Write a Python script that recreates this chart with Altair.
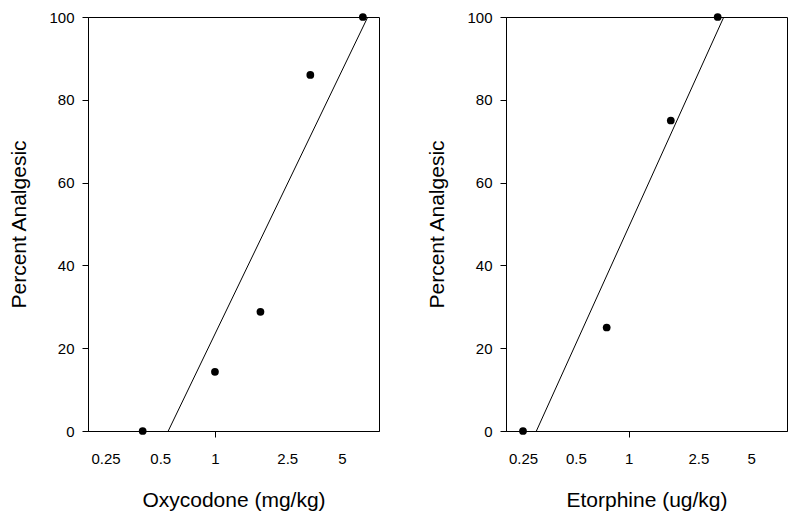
import altair as alt
import pandas as pd

# Oxycodone panel
oxy_dose = [0.40, 1.0, 1.78, 3.35, 6.52]
oxy_pct = [0, 14.3, 28.8, 86, 100]
oxy_fit_dose = [0.553, 6.94]
oxy_fit_pct = [0, 100]

# Etorphine panel
eto_dose = [0.25, 0.75, 1.74, 3.22]
eto_pct = [0, 25, 75, 100]
eto_fit_dose = [0.298, 3.49]
eto_fit_pct = [0, 100]

x_ticks = [0.25, 0.5, 1, 2.5, 5]
y_ticks = [0, 20, 40, 60, 80, 100]

FONT = "Liberation Sans"


def panel(dose, pct, fit_dose, fit_pct, xtitle, width):
    pts = pd.DataFrame({"dose": dose, "pct": pct})
    fit = pd.DataFrame({"dose": fit_dose, "pct": fit_pct})
    xs = alt.Scale(type="log", domain=[0.2, 8], nice=False)
    ys = alt.Scale(domain=[0, 100], nice=False)
    xax = alt.Axis(
        values=x_ticks,
        labelExpr="datum.value",
        title=xtitle,
        grid=False,
        tickSize=6,
        tickOpacity={"condition": {"test": "datum.value === 1", "value": 1}, "value": 0},
        labelPadding=14,
        titlePadding=23,
        labelFlush=False,
        labelOverlap=False,
    )
    yax = alt.Axis(
        values=y_ticks,
        title="Percent Analgesic",
        grid=False,
        tickSize=6,
        labelPadding=8,
        titlePadding=19,
    )
    line = alt.Chart(fit).mark_line(color="black", strokeWidth=1, clip=True).encode(
        x=alt.X("dose:Q", scale=xs, axis=xax),
        y=alt.Y("pct:Q", scale=ys, axis=yax),
    )
    dots = alt.Chart(pts).mark_circle(color="black", opacity=1, size=60).encode(
        x=alt.X("dose:Q", scale=xs),
        y=alt.Y("pct:Q", scale=ys),
    )
    return alt.layer(line, dots).properties(width=width, height=414)


left = panel(oxy_dose, oxy_pct, oxy_fit_dose, oxy_fit_pct, "Oxycodone (mg/kg)", 291)
right = panel(eto_dose, eto_pct, eto_fit_dose, eto_fit_pct, "Etorphine (ug/kg)", 281)

chart = (
    alt.hconcat(left, right, spacing=46)
    .properties(padding={"left": 0, "top": 1, "right": 0, "bottom": 0}, background="white")
    .configure_view(stroke="black", strokeWidth=1)
    .configure_axis(
        domainColor="black",
        tickColor="black",
        labelColor="black",
        titleColor="black",
        labelFont=FONT,
        titleFont=FONT,
        labelFontSize=15,
        titleFontSize=21,
        titleFontWeight="normal",
    )
)

chart.save("out.html", embed_options={"renderer": "svg", "actions": False})
